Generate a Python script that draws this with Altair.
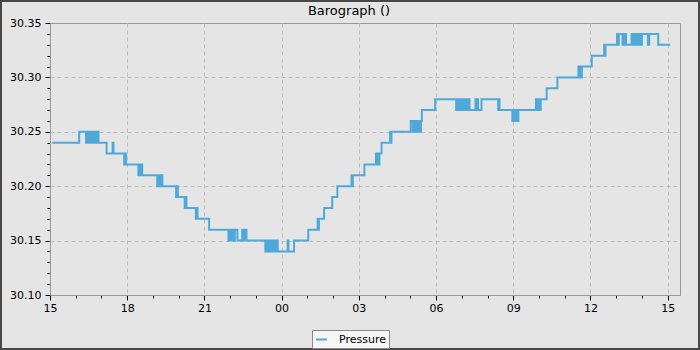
import altair as alt
import pandas as pd

# minutes after 15:00 on the first day, and barometric pressure (inHg)
minutes = [
    5, 68,
    84, 86, 88, 90, 92, 95, 97, 100, 102, 105, 107, 110, 113,
    132, 146, 148,
    173, 175, 177,
    206, 208, 210, 212, 215,
    250, 252, 254, 256, 258, 260, 262,
    294, 296, 298,
    314, 316, 318,
    340, 342, 344,
    371,
    416, 418, 420, 423, 425, 427, 429, 431, 437,
    448, 451, 455, 458,
    502, 504, 506, 508, 510, 512,
    515, 517, 519, 521, 523, 525, 527, 529, 531,
    554, 556, 569, 602,
    624, 625, 627, 639, 658, 670,
    703, 704, 706, 733,
    760, 762, 764, 766, 768, 773,
    793, 794, 796, 841,
    846, 848, 850, 852, 855, 857, 859, 861, 863, 865, 867, 898,
    947, 949, 951, 953, 955, 957, 959, 961, 962, 964, 966, 968, 970, 972, 974, 976, 978,
    992, 994, 996, 998, 1006,
    1045, 1046, 1048,
    1078, 1080, 1082, 1084, 1086, 1088, 1090, 1092,
    1133, 1135, 1137, 1139, 1141, 1143, 1144,
    1158, 1183,
    1232, 1234, 1236, 1238, 1240, 1263,
    1292, 1293, 1295,
    1322, 1324, 1326,
    1335, 1337, 1339, 1341, 1343,
    1356, 1358, 1360, 1362, 1364, 1366, 1368, 1370, 1372, 1374, 1376, 1378, 1380,
    1394, 1397, 1418, 1446,
]
pressure = [
    30.24, 30.25,
    30.24, 30.25, 30.24, 30.25, 30.24, 30.25, 30.24, 30.25, 30.24, 30.25, 30.24, 30.25, 30.24,
    30.23, 30.24, 30.23,
    30.22, 30.23, 30.22,
    30.21, 30.22, 30.21, 30.22, 30.21,
    30.20, 30.21, 30.20, 30.21, 30.20, 30.21, 30.20,
    30.19, 30.20, 30.19,
    30.18, 30.19, 30.18,
    30.17, 30.18, 30.17,
    30.16,
    30.15, 30.16, 30.15, 30.16, 30.15, 30.16, 30.15, 30.16, 30.15,
    30.16, 30.15, 30.16, 30.15,
    30.14, 30.15, 30.14, 30.15, 30.14, 30.15,
    30.14, 30.15, 30.14, 30.15, 30.14, 30.15, 30.14, 30.15, 30.14,
    30.15, 30.14, 30.15, 30.16,
    30.17, 30.16, 30.17, 30.18, 30.19, 30.20,
    30.21, 30.20, 30.21, 30.22,
    30.23, 30.22, 30.23, 30.22, 30.23, 30.24,
    30.25, 30.24, 30.25, 30.26,
    30.25, 30.26, 30.25, 30.26, 30.25, 30.26, 30.25, 30.26, 30.25, 30.26, 30.27, 30.28,
    30.27, 30.28, 30.27, 30.28, 30.27, 30.28, 30.27, 30.28, 30.27, 30.28, 30.27, 30.28, 30.27, 30.28, 30.27, 30.28, 30.27,
    30.28, 30.27, 30.28, 30.27, 30.28,
    30.27, 30.28, 30.27,
    30.26, 30.27, 30.26, 30.27, 30.26, 30.27, 30.26, 30.27,
    30.28, 30.27, 30.28, 30.27, 30.28, 30.27, 30.28,
    30.29, 30.30,
    30.31, 30.30, 30.31, 30.30, 30.31, 30.32,
    30.33, 30.32, 30.33,
    30.34, 30.33, 30.34,
    30.33, 30.34, 30.33, 30.34, 30.33,
    30.34, 30.33, 30.34, 30.33, 30.34, 30.33, 30.34, 30.33, 30.34, 30.33, 30.34, 30.33, 30.34,
    30.33, 30.34, 30.33, 30.33,
]
series_name = "Pressure"
chart_title = "Barograph ()"
start_hour = 15
# hour ticks (hours after 15:00), labels every third hour
x_ticks = [0, 1, 2, 3, 4, 5, 6, 7, 8, 9, 10, 11, 12, 13, 14, 15, 16, 17,
           18, 19, 20, 21, 22, 23, 24]
x_domain = [0, 24.48]
y_ticks = [30.10, 30.11, 30.12, 30.13, 30.14, 30.15, 30.16, 30.17, 30.18, 30.19,
           30.20, 30.21, 30.22, 30.23, 30.24, 30.25, 30.26, 30.27, 30.28, 30.29,
           30.30, 30.31, 30.32, 30.33, 30.34, 30.35]
y_domain = [30.10, 30.35]

df = pd.DataFrame({
    "hours": [m / 60 for m in minutes],
    "pressure": pressure,
    "series": series_name,
})

FONT = "DejaVu Sans"
LINE_COLOR = "#4ea9d9"

x_major = "datum.value % 3 == 0"
y_major = "round(datum.value * 100) % 5 == 0"

x_label_expr = (
    f"{x_major} ? "
    f"(({start_hour} + datum.value) % 24 < 10 ? '0' : '') + (({start_hour} + datum.value) % 24) : ''"
)

x_axis = alt.Axis(
    title=None,
    values=x_ticks,
    labelExpr=x_label_expr,
    labelOverlap=False,
    labelFlush=False,
    labelFont=FONT, labelFontSize=11, labelColor="#000000", labelPadding=2,
    grid=True,
    gridColor="#bcbcbc", gridDash=[4, 3], gridWidth=1,
    gridOpacity={"condition": {"test": f"{x_major} && datum.value > 0", "value": 1}, "value": 0},
    tickColor="#000000",
    tickSize={"condition": {"test": x_major, "value": 5}, "value": 3},
    domainColor="#999999",
)

y_axis = alt.Axis(
    title=None,
    values=y_ticks,
    labelExpr=f"{y_major} ? format(datum.value, '.2f') : ''",
    labelOverlap=False,
    labelFont=FONT, labelFontSize=11, labelColor="#000000", labelPadding=4,
    grid=True,
    gridColor="#bcbcbc", gridDash=[4, 3], gridWidth=1,
    gridOpacity={"condition": {"test": f"{y_major} && datum.value > 30.105 && datum.value < 30.345", "value": 1}, "value": 0},
    tickColor="#000000",
    tickSize={"condition": {"test": y_major, "value": 5}, "value": 3},
    domainColor="#999999",
)

line = alt.Chart(df).mark_line(interpolate="step-after", strokeWidth=2).encode(
    x=alt.X("hours:Q", axis=x_axis, scale=alt.Scale(domain=x_domain, nice=False, zero=False)),
    y=alt.Y("pressure:Q", axis=y_axis, scale=alt.Scale(domain=y_domain, nice=False, zero=False)),
    color=alt.Color("series:N",
                    scale=alt.Scale(domain=[series_name], range=[LINE_COLOR]),
                    legend=alt.Legend(title=None, orient="none", legendX=262, legendY=307,
                                      fillColor="#f6f6f6", strokeColor="#8a8a8a",
                                      padding=3, symbolType="stroke", symbolStrokeWidth=2,
                                      symbolSize=120, labelOffset=11, labelFont=FONT,
                                      labelFontSize=11, labelColor="#000000")),
)

frame_df = pd.DataFrame({"k": [0]})
frame = alt.Chart(frame_df).mark_rect(
    fillOpacity=0, stroke="#474747", strokeWidth=2
).encode(
    x=alt.value(-49), x2=alt.value(649), y=alt.value(-22), y2=alt.value(326)
)

chart = alt.layer(line, frame).properties(
    width=630,
    height=272,
    padding={"left": 50, "top": 23, "right": 20, "bottom": 55},
    autosize=alt.AutoSizeParams(type="none"),
    title=alt.TitleParams(chart_title, font=FONT, fontSize=13, fontWeight="normal",
                          color="#000000", offset=6, dx=-16, dy=24),
    background="#e5e5e5",
).configure_view(
    stroke="#999999", strokeWidth=1, fill="#e5e5e5"
)

chart.save("out.html", embed_options={"renderer": "svg", "actions": False})
